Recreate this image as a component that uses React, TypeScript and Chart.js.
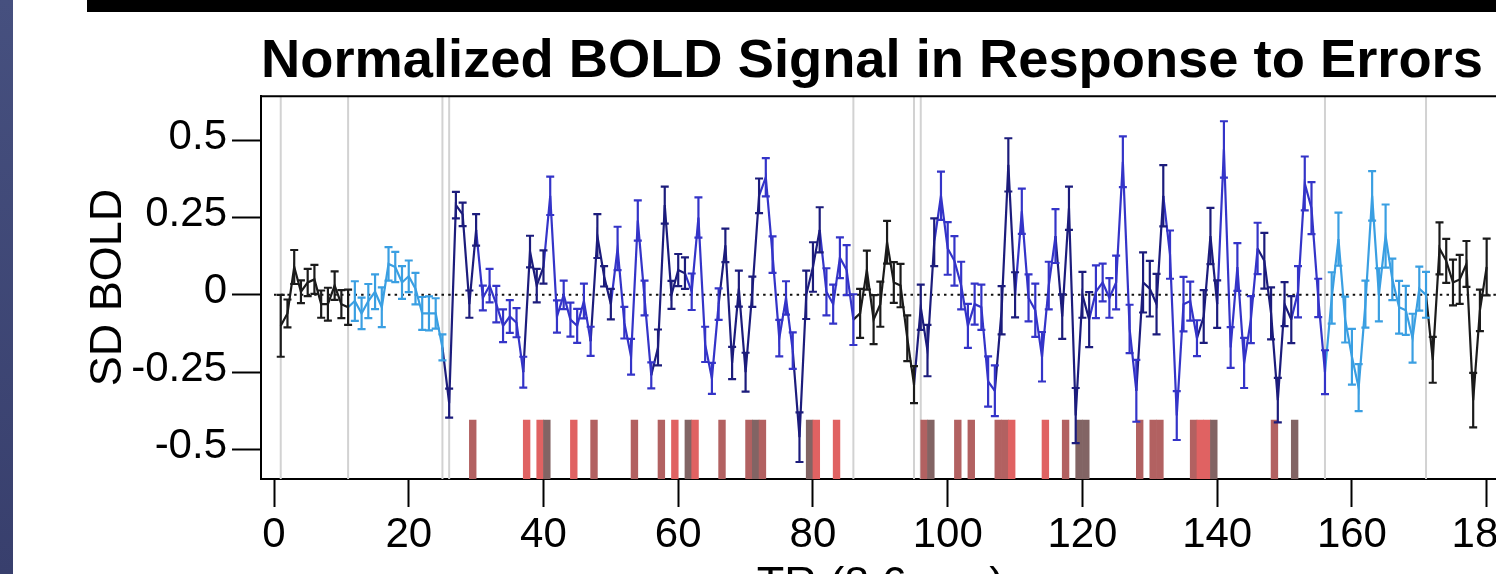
import React, { useEffect, useRef } from "react";
import { Chart, registerables } from "chart.js";

Chart.register(...registerables);

// ---- Data (one value per TR, TR = 1..180) ----
const boldSD = [
  -0.10, -0.06, 0.09, 0.01, 0.04, 0.05, -0.03, -0.03, 0.03, -0.03,
  -0.04, -0.02, -0.06, -0.02, 0.01, -0.04, 0.10, 0.09, 0.04, 0.06,
  0.02, -0.06, -0.06, -0.06, -0.17, -0.35, 0.29, 0.26, -0.03, 0.21,
  -0.01, 0.03, -0.03, -0.10, -0.07, -0.09, -0.25, 0.14, 0.03, 0.09,
  0.32, -0.07, 0.00, -0.08, -0.10, -0.02, -0.15, 0.19, 0.06, -0.03,
  0.15, -0.09, -0.20, 0.24, -0.01, -0.26, -0.17, 0.29, 0.00, 0.08,
  0.07, 0.01, 0.25, -0.16, -0.27, -0.03, 0.16, -0.22, 0.02, -0.25,
  0.01, 0.32, 0.38, 0.13, -0.14, -0.01, -0.18, -0.46, 0.00, 0.09,
  0.21, 0.01, -0.03, 0.12, 0.08, -0.08, -0.06, 0.08, -0.08, -0.03,
  0.17, 0.04, 0.03, -0.14, -0.29, -0.04, -0.18, 0.17, 0.32, 0.15,
  0.11, 0.03, -0.10, -0.03, -0.04, -0.28, -0.31, -0.05, 0.42, 0.00,
  0.27, -0.01, -0.05, -0.20, 0.03, 0.19, -0.07, 0.28, -0.39, 0.00,
  -0.08, 0.01, 0.04, -0.01, 0.04, 0.43, -0.11, -0.31, 0.04, 0.02,
  -0.03, 0.32, 0.13, -0.39, -0.03, -0.02, -0.14, -0.07, 0.19, -0.03,
  0.47, -0.17, 0.09, -0.22, -0.08, 0.15, 0.11, -0.06, -0.34, -0.03,
  -0.08, 0.01, 0.36, 0.28, -0.01, -0.25, -0.01, 0.18, -0.08, -0.20,
  -0.30, -0.03, 0.32, 0.00, 0.19, 0.05, -0.04, -0.05, -0.14, 0.02,
  0.00, -0.21, 0.15, 0.11, 0.04, 0.05, 0.10, -0.34, -0.05, 0.09,
];

const boldErr = [
  0.100, 0.045, 0.055, 0.037, 0.044, 0.047, 0.044, 0.053, 0.046, 0.045,
  0.057, 0.064, 0.051, 0.055, 0.056, 0.064, 0.054, 0.049, 0.053, 0.051,
  0.051, 0.053, 0.055, 0.049, 0.042, 0.047, 0.043, 0.038, 0.044, 0.051,
  0.040, 0.054, 0.059, 0.053, 0.053, 0.047, 0.050, 0.051, 0.054, 0.054,
  0.062, 0.052, 0.046, 0.055, 0.055, 0.056, 0.047, 0.071, 0.033, 0.049,
  0.070, 0.051, 0.058, 0.065, 0.056, 0.042, 0.058, 0.060, 0.045, 0.052,
  0.051, 0.059, 0.065, 0.057, 0.050, 0.051, 0.054, 0.052, 0.058, 0.063,
  0.049, 0.056, 0.062, 0.059, 0.059, 0.054, 0.059, 0.080, 0.078, 0.080,
  0.073, 0.076, 0.063, 0.066, 0.081, 0.082, 0.079, 0.063, 0.079, 0.073,
  0.069, 0.066, 0.070, 0.074, 0.060, 0.073, 0.083, 0.077, 0.078, 0.085,
  0.080, 0.077, 0.071, 0.066, 0.073, 0.081, 0.082, 0.078, 0.086, 0.073,
  0.073, 0.076, 0.086, 0.080, 0.077, 0.087, 0.072, 0.070, 0.089, 0.074,
  0.089, 0.085, 0.061, 0.064, 0.087, 0.082, 0.078, 0.100, 0.097, 0.090,
  0.098, 0.099, 0.078, 0.079, 0.088, 0.063, 0.058, 0.085, 0.091, 0.077,
  0.091, 0.066, 0.077, 0.081, 0.076, 0.083, 0.090, 0.084, 0.072, 0.071,
  0.076, 0.083, 0.087, 0.084, 0.062, 0.071, 0.083, 0.086, 0.074, 0.090,
  0.076, 0.076, 0.080, 0.086, 0.102, 0.067, 0.085, 0.079, 0.079, 0.071,
  0.074, 0.074, 0.084, 0.071, 0.074, 0.079, 0.074, 0.088, 0.067, 0.092,
];

// condition of each TR: k = rest, c = pre/post task, b = task, n = post-error
const condition =
  "kkkkkkkkkkk" + "cccccccccccccc" + "nnnnn" + "bbbbbbb" + "nnn" + "bbbbbbb" +
  "nnn" + "bbbbbb" + "nnnnn" + "bbbbb" + "nnnnnn" + "bbbbb" + "nnnn" + "bbbbb" +
  "kkkkkkkkk" + "nnn" + "bbbbbbbbb" + "nnn" + "bbbbbb" + "nnnnn" + "bbbbbbb" +
  "nnnn" + "bbbbb" + "nnn" + "bbbbbb" + "nnnnn" + "bbbbb" + "ccccccccccccccc" +
  "kkkkkkkkk";

const errorEventTRs = [
  29, 37, 39, 40, 44, 47, 53, 57, 59, 61, 62, 66, 70, 71, 72, 79, 80, 83,
  96, 97, 101, 103, 107, 108, 109, 114, 117, 119, 120, 128, 130, 131,
  136, 137, 138, 139, 148, 151,
];
const errorEventKinds = [
  "B", "A", "A", "C", "A", "B", "B", "B", "A", "C", "A", "B", "B", "C", "B", "C", "A", "A",
  "B", "C", "B", "B", "B", "B", "A", "A", "B", "C", "C", "B", "B", "B",
  "B", "A", "A", "C", "B", "C",
];

const boundaryTRs = [1, 11, 25, 26, 86, 95, 96, 156, 171];

const xTickValues = [0, 20, 40, 60, 80, 100, 120, 140, 160, 180];
const xTickLabels = ["0", "20", "40", "60", "80", "100", "120", "140", "160", "180"];
const yTickValues = [-0.5, -0.25, 0, 0.25, 0.5];
const yTickLabels = ["-0.5", "-0.25", "0", "0.25", "0.5"];

const titleText = "Normalized BOLD Signal in Response to Errors";
const xTitleText = "TR (8.6 sec)";
const yTitleText = "SD BOLD";

// ---- Styling ----
const FONT = "'Liberation Sans', Arial, Helvetica, sans-serif";
const palette: Record<string, string> = {
  k: "#1b1b1b",
  c: "#3a9fe2",
  b: "#3434c8",
  n: "#1c1c7c",
};
const eventPalette: Record<string, string> = {
  A: "#e06262",
  B: "#b26161",
  C: "#826464",
};
const X_MIN = -1.93;
const X_MAX = 181.98;
const Y_MIN = -0.595;
const Y_MAX = 0.642;
const EVENT_TOP = -0.405;

const CANVAS_W = 1700;
const CANVAS_H = 620;
const LINE_W = 2.2;

const decorPlugin = {
  id: "decor",
  beforeDatasetsDraw(chart: any) {
    const { ctx, chartArea: a, scales } = chart;
    const x = scales.x;
    ctx.save();
    ctx.strokeStyle = "#d2d2d2";
    ctx.lineWidth = 2;
    boundaryTRs.forEach((t) => {
      const px = x.getPixelForValue(t);
      ctx.beginPath();
      ctx.moveTo(px, a.top);
      ctx.lineTo(px, a.bottom);
      ctx.stroke();
    });
    ctx.restore();
  },
  afterDatasetsDraw(chart: any) {
    const { ctx, chartArea: a, scales } = chart;
    const x = scales.x;
    const y = scales.y;
    ctx.save();
    ctx.beginPath();
    ctx.rect(a.left, a.top, a.right - a.left, a.bottom - a.top);
    ctx.clip();
    ctx.lineWidth = LINE_W;
    boldSD.forEach((v, i) => {
      const px = x.getPixelForValue(i + 1);
      const yHi = y.getPixelForValue(v + boldErr[i]);
      const yLo = y.getPixelForValue(v - boldErr[i]);
      ctx.strokeStyle = palette[condition[i]];
      ctx.beginPath();
      ctx.moveTo(px, yHi);
      ctx.lineTo(px, yLo);
      ctx.moveTo(px - 4, yHi);
      ctx.lineTo(px + 4, yHi);
      ctx.moveTo(px - 4, yLo);
      ctx.lineTo(px + 4, yLo);
      ctx.stroke();
    });
    ctx.restore();
    ctx.save();
    ctx.strokeStyle = "#000";
    ctx.lineWidth = 2;
    ctx.beginPath();
    ctx.moveTo(a.left, a.top);
    ctx.lineTo(a.right, a.top);
    ctx.lineTo(a.right, a.bottom);
    ctx.stroke();
    ctx.restore();
  },
};

export default function App() {
  const canvasRef = useRef<HTMLCanvasElement | null>(null);

  useEffect(() => {
    const canvas = canvasRef.current;
    if (!canvas) return;

    const lineData = boldSD.map((v, i) => ({ x: i + 1, y: v }));
    const eventData = errorEventTRs.map((t) => ({ x: t + 0.5, y: [Y_MIN, EVENT_TOP] }));

    const chart = new Chart(canvas, {
      type: "line",
      data: {
        datasets: [
          {
            type: "line",
            label: "BOLD",
            data: lineData as any,
            borderWidth: LINE_W,
            pointRadius: 0,
            tension: 0,
            borderColor: palette.k,
            segment: {
              borderColor: (ctx: any) => palette[condition[ctx.p1DataIndex]],
            },
            order: 1,
          },
          {
            type: "line",
            label: "zero",
            data: [
              { x: 0, y: 0 },
              { x: X_MAX, y: 0 },
            ] as any,
            borderColor: "#111",
            borderWidth: 2,
            borderDash: [2.5, 4.2],
            pointRadius: 0,
            order: 2,
          },
          {
            type: "bar",
            label: "errors",
            data: eventData as any,
            backgroundColor: errorEventKinds.map((k) => eventPalette[k]),
            borderWidth: 0,
            barPercentage: 1,
            categoryPercentage: 1,
            order: 3,
          } as any,
        ],
      },
      options: {
        animation: false,
        responsive: false,
        devicePixelRatio: 1,
        layout: {
          padding: { left: 60, top: 0, right: CANVAS_W - 1500, bottom: 0 },
        },
        plugins: {
          legend: { display: false },
          tooltip: { enabled: false },
          title: {
            display: true,
            text: titleText,
            align: "start",
            fullSize: false,
            color: "#000",
            font: { family: FONT, size: 54.3, weight: "bold", lineHeight: 1.2 },
            padding: { top: 29, bottom: 2 },
          },
        },
        scales: {
          x: {
            type: "linear",
            min: X_MIN,
            max: X_MAX,
            bounds: "data",
            offset: false,
            afterBuildTicks: (scale: any) => {
              scale.ticks = xTickValues.map((v) => ({ value: v }));
            },
            afterFit: (scale: any) => {
              scale.height = CANVAS_H - 479;
            },
            ticks: {
              autoSkip: false,
              maxRotation: 0,
              color: "#000",
              padding: 3,
              font: { family: FONT, size: 42, lineHeight: 1.2 },
              callback: (_v: any, i: number) => xTickLabels[i],
            },
            grid: {
              display: true,
              drawOnChartArea: false,
              drawTicks: true,
              tickLength: 28,
              tickWidth: 2,
              tickColor: "#000",
              offset: false,
            },
            border: { display: true, color: "#000", width: 2 },
            title: {
              display: true,
              text: xTitleText,
              color: "#000",
              font: { family: FONT, size: 45, lineHeight: 1.2 },
              padding: { top: 0, bottom: 7 },
            },
          },
          y: {
            type: "linear",
            min: Y_MIN,
            max: Y_MAX,
            bounds: "data",
            afterBuildTicks: (scale: any) => {
              scale.ticks = yTickValues.map((v) => ({ value: v }));
            },
            afterFit: (scale: any) => {
              scale.width = 261 - 60;
            },
            ticks: {
              color: "#000",
              padding: 5,
              labelOffset: -3,
              font: { family: FONT, size: 42, lineHeight: 1.2 },
              callback: (_v: any, i: number) => yTickLabels[i],
            },
            grid: {
              display: true,
              drawOnChartArea: false,
              drawTicks: true,
              tickLength: 29,
              tickWidth: 2,
              tickColor: "#000",
            },
            border: { display: true, color: "#000", width: 2 },
            title: {
              display: true,
              text: yTitleText,
              color: "#000",
              font: { family: FONT, size: 45, lineHeight: 1.2 },
              padding: { top: 22, bottom: 0 },
            },
          },
        },
      },
      plugins: [decorPlugin],
    });

    return () => {
      chart.destroy();
    };
  }, []);

  return (
    <div
      style={{
        position: "fixed",
        left: 0,
        top: 0,
        width: 1496,
        height: 574,
        overflow: "hidden",
        background: "#fff",
      }}
    >
      <canvas
        ref={canvasRef}
        width={CANVAS_W}
        height={CANVAS_H}
        style={{ position: "absolute", left: 0, top: 0, width: CANVAS_W, height: CANVAS_H }}
      />
      <div
        style={{
          position: "absolute",
          left: 0,
          top: 0,
          width: 13,
          height: 574,
          background: "linear-gradient(#46507f, #383f6d)",
        }}
      />
      <div
        style={{
          position: "absolute",
          left: 87,
          top: 0,
          right: 0,
          height: 12,
          background: "#000",
        }}
      />
    </div>
  );
}
